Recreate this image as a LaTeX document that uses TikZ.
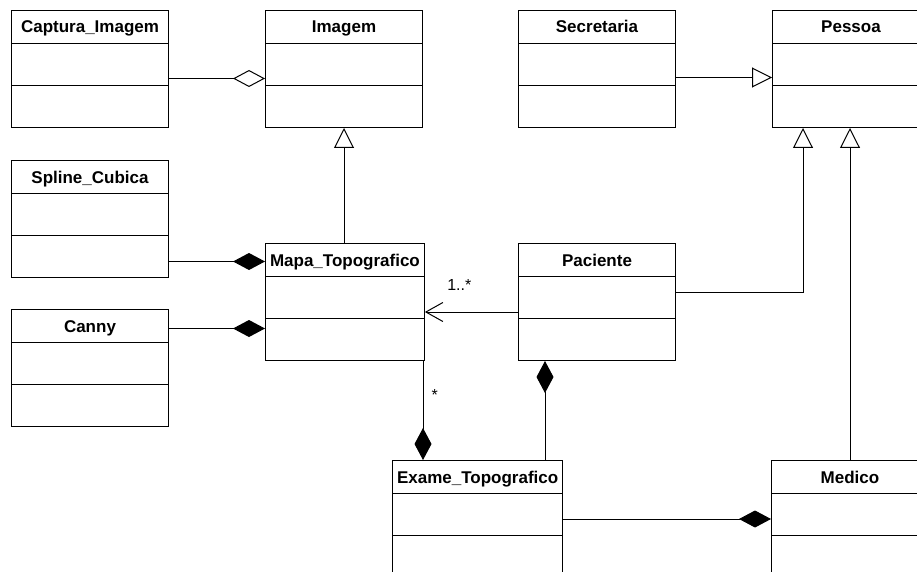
\documentclass[tikz,border=0pt]{standalone}
\usepackage{fontspec}
\usepackage{tikz}
\usetikzlibrary{shapes.multipart, arrows.meta, positioning}
\newfontfamily\umlfont{Liberation Sans}
\newcommand{\classhead}[1]{\rule[-10pt]{0pt}{32pt}#1}
\newcommand{\compartment}{\rule{0pt}{41pt}}

\begin{document}
\begin{tikzpicture}[x=1pt, y=-1pt,
	classbox/.style={rectangle split, rectangle split parts=3, draw, line width=1pt, anchor=north west,
		minimum width=157pt, inner xsep=4.5pt, inner ysep=0pt, font=\umlfont\bfseries\fontsize{17}{20}\selectfont},
	link/.style={line width=1pt},
	aggr/.style={link, -{Diamond[open, length=32pt, width=17pt]}},
	compo/.style={link, -{Diamond[length=32pt, width=17pt]}},
	gener/.style={link, -{Triangle[open, length=20pt, width=20pt]}},
	navig/.style={link, -{Straight Barb[length=17pt, width=19pt]}},
	mult/.style={font=\umlfont\fontsize{16}{18}\selectfont, inner sep=0pt}]
	\path[use as bounding box, clip] (0,0) rectangle (917,572);

	\node [classbox] (capturaImagem) at (11,10) {\classhead{Captura\_Imagem} \nodepart{second}\compartment \nodepart{third}\compartment};
	\node [classbox] (imagem) at (265,10) {\classhead{Imagem} \nodepart{second}\compartment \nodepart{third}\compartment};
	\node [classbox] (secretaria) at (518,10) {\classhead{Secretaria} \nodepart{second}\compartment \nodepart{third}\compartment};
	\node [classbox] (pessoa) at (772,10) {\classhead{Pessoa} \nodepart{second}\compartment \nodepart{third}\compartment};
	\node [classbox] (splineCubica) at (11,160) {\classhead{Spline\_Cubica} \nodepart{second}\compartment \nodepart{third}\compartment};
	\node [classbox] (mapaTopo) at (265,243) {\classhead{Mapa\_Topografico} \nodepart{second}\compartment \nodepart{third}\compartment};
	\node [classbox] (canny) at (11,309) {\classhead{Canny} \nodepart{second}\compartment \nodepart{third}\compartment};
	\node [classbox] (paciente) at (518,243) {\classhead{Paciente} \nodepart{second}\compartment \nodepart{third}\compartment};
	\node [classbox] (exameTopo) at (392,460) {\classhead{Exame\_Topografico} \nodepart{second}\compartment \nodepart{third}\compartment};
	\node [classbox] (medico) at (771,460) {\classhead{Medico} \nodepart{second}\compartment \nodepart{third}\compartment};

	\coordinate (captEnd) at ([yshift=-9.5pt]capturaImagem.east);
	\coordinate (secrEnd) at ([yshift=-8.5pt]secretaria.east);
	\coordinate (splineEnd) at ([yshift=-42.5pt]splineCubica.east);
	\coordinate (cannyEnd) at ([yshift=39.5pt]canny.east);
	\coordinate (pacWest) at ([yshift=-10pt]paciente.west);
	\coordinate (pacEast) at ([yshift=9.5pt]paciente.east);
	\coordinate (pacFoot) at ([xshift=27pt]paciente.south west);
	\coordinate (mapaFoot) at ([xshift=158pt]mapaTopo.south west);
	\coordinate (pessoaFoot) at ([xshift=31pt]pessoa.south west);

	\draw[aggr] (captEnd) -- (captEnd -| imagem.west);
	\draw[gener] (secrEnd) -- (secrEnd -| pessoa.west);
	\draw[gener] (mapaTopo.north -| imagem.south) -- (imagem.south);
	\draw[compo] (splineEnd) -- (splineEnd -| mapaTopo.west);
	\draw[compo] (cannyEnd) -- (cannyEnd -| mapaTopo.west);
	\draw[navig] (pacWest) -- node[mult, pos=0.63, above=21pt] {1..*} (pacWest -| mapaTopo.east);
	\draw[gener] (pacEast) -| (pessoaFoot);
	\draw[compo] (mapaFoot) -- node[mult, pos=0.34, right=8pt] {*} (mapaFoot |- exameTopo.north);
	\draw[compo] (exameTopo.north -| pacFoot) -- (pacFoot);
	\draw[gener] (medico.north) -- (medico.north |- pessoa.south);
	\draw[compo] (exameTopo.east) -- (medico.west);
\end{tikzpicture}
\end{document}
